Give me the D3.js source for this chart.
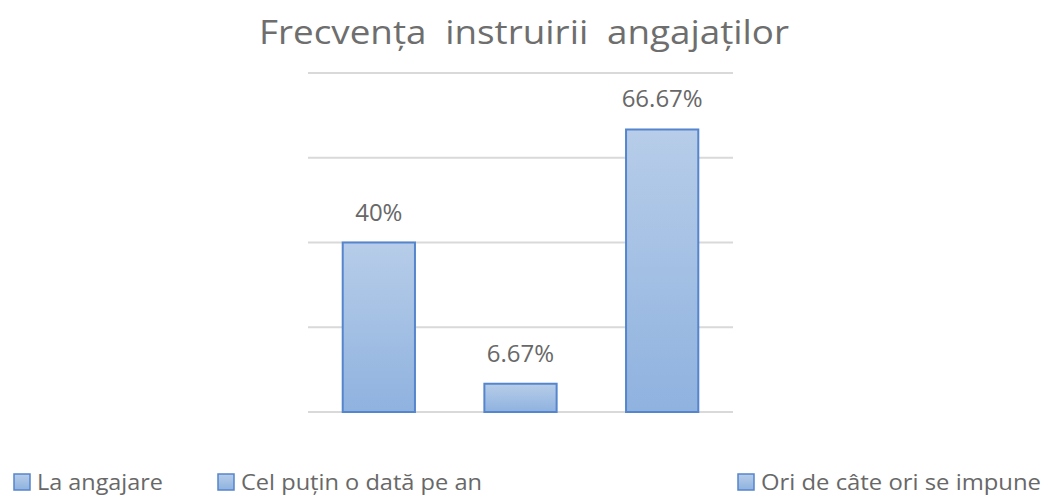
<!DOCTYPE html>
<html><head><meta charset="utf-8">
<script src="https://cdn.jsdelivr.net/npm/d3@7"></script>
<style>body{margin:0;background:#fff}svg{display:block}</style>
</head><body><svg id="c" width="1045" height="495"></svg>
<script>
const categories = ["La angajare", "Cel puțin o dată pe an", "Ori de câte ori se impune"];
const values = [40, 6.67, 66.67];
const valueLabels = ["40%", "6.67%", "66.67%"];
const yTicks = [0, 20, 40, 60, 80];
const title = "Frecvența instruirii angajaților";

const svg = d3.select("#c");
const font = "'Open Sans', 'Noto Sans', sans-serif";
const x = d3.scaleBand().domain(categories).range([308, 733]).paddingInner(0.49).paddingOuter(0.245);
const y = d3.scaleLinear().domain([0, 80]).range([412, 73]);

const defs = svg.append("defs");
const g = defs.append("linearGradient").attr("id","bg").attr("x1",0).attr("y1",0).attr("x2",0).attr("y2",1);
g.append("stop").attr("offset","0%").attr("stop-color","#b7cde9");
g.append("stop").attr("offset","100%").attr("stop-color","#8fb2df");

svg.append("text").attr("x", 524).attr("y", 44).attr("text-anchor","middle")
  .attr("font-family", font).attr("font-size", 32).attr("fill", "#6e6e6e")
  .attr("word-spacing", 8).attr("textLength", 530).attr("lengthAdjust", "spacingAndGlyphs")
  .text(title);

svg.append("g").selectAll("line").data(yTicks).join("line")
  .attr("x1", 308).attr("x2", 733).attr("y1", d => y(d)).attr("y2", d => y(d))
  .attr("stroke", "#d9d9d9").attr("stroke-width", 2);

svg.append("g").selectAll("rect").data(values).join("rect")
  .attr("x", (d,i) => x(categories[i])).attr("width", x.bandwidth())
  .attr("y", d => y(d)).attr("height", d => y(0) - y(d))
  .attr("fill", "url(#bg)").attr("stroke", "#5585cc").attr("stroke-width", 2);

svg.append("g").selectAll("text").data(values).join("text")
  .attr("x", (d,i) => x(categories[i]) + x.bandwidth()/2)
  .attr("y", d => y(d) - 22).attr("text-anchor","middle")
  .attr("font-family", font).attr("font-size", 24).attr("fill", "#686868")
  .text((d,i) => valueLabels[i]);

const legendX = [13, 217, 737];
const legendW = [126, 241, 280];
const lg = svg.append("g").selectAll("g").data(categories).join("g")
  .attr("transform", (d,i) => `translate(${legendX[i]},490)`);
lg.append("rect").attr("x", 1).attr("y", -16).attr("width", 16).attr("height", 16)
  .attr("fill", "url(#bg)").attr("stroke", "#5585cc").attr("stroke-width", 1.5);
lg.append("text").attr("x", 24).attr("y", 0)
  .attr("font-family", font).attr("font-size", 22).attr("fill", "#686868")
  .attr("textLength", (d,i) => legendW[i]).attr("lengthAdjust", "spacingAndGlyphs")
  .text(d => d);
</script></body></html>
